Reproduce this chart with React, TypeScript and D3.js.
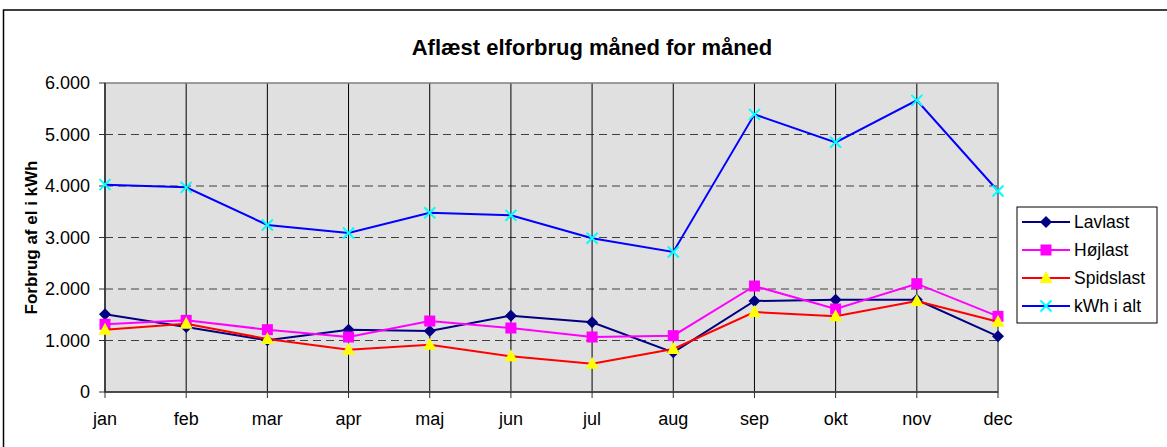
import { useEffect } from 'react'
import * as d3 from 'd3'

const months = ['jan', 'feb', 'mar', 'apr', 'maj', 'jun', 'jul', 'aug', 'sep', 'okt', 'nov', 'dec']
const lavlast = [1508, 1262, 1003, 1210, 1184, 1482, 1353, 770, 1767, 1793, 1790, 1081]
const hojlast = [1314, 1391, 1210, 1068, 1378, 1242, 1068, 1094, 2058, 1611, 2103, 1469]
const spidslast = [1210, 1327, 1029, 822, 919, 692, 550, 835, 1553, 1469, 1767, 1365]
const kwhTotal = [4026, 3974, 3243, 3087, 3482, 3430, 2984, 2718, 5391, 4848, 5663, 3903]
const yTicks = [0, 1000, 2000, 3000, 4000, 5000, 6000]

type Marker = 'diamond' | 'square' | 'triangle' | 'x'

const series: { name: string; values: number[]; line: string; fill: string; marker: Marker }[] = [
  { name: 'Lavlast', values: lavlast, line: '#000080', fill: '#000080', marker: 'diamond' },
  { name: 'Højlast', values: hojlast, line: '#ff00ff', fill: '#ff00ff', marker: 'square' },
  { name: 'Spidslast', values: spidslast, line: '#ff0000', fill: '#ffff00', marker: 'triangle' },
  { name: 'kWh i alt', values: kwhTotal, line: '#0000ff', fill: '#00ffff', marker: 'x' },
]

const font = 'Arial, "Liberation Sans", sans-serif'

function MarkerShape({ type, x, y, fill }: { type: Marker; x: number; y: number; fill: string }) {
  if (type === 'diamond') {
    return <path d={`M${x},${y - 6}L${x + 6},${y}L${x},${y + 6}L${x - 6},${y}Z`} fill={fill} />
  }
  if (type === 'square') {
    return <rect x={x - 5.5} y={y - 5.5} width={11} height={11} fill={fill} />
  }
  if (type === 'triangle') {
    return <path d={`M${x},${y - 7}L${x + 6.5},${y + 5}L${x - 6.5},${y + 5}Z`} fill={fill} />
  }
  return (
    <path
      d={`M${x - 5.5},${y - 5.5}L${x + 5.5},${y + 5.5}M${x - 5.5},${y + 5.5}L${x + 5.5},${y - 5.5}`}
      stroke={fill}
      strokeWidth={2}
    />
  )
}

export default function App() {
  useEffect(() => {
    document.body.style.margin = '0'
  }, [])

  const left = 105
  const right = 998
  const top = 83
  const bottom = 392

  const x = d3.scalePoint<string>().domain(months).range([left, right])
  const y = d3.scaleLinear().domain([0, 6000]).range([bottom, top])
  const fmt = (v: number) => (v === 0 ? '0' : d3.format(',')(v).replace(/,/g, '.'))

  const line = d3
    .line<number>()
    .x((_, i) => x(months[i]) as number)
    .y(d => y(d))

  return (
    <svg width={1167} height={447} style={{ display: 'block', fontFamily: font }}>
      <rect x={0} y={0} width={1167} height={447} fill="#ffffff" />
      <rect x={3.5} y={10} width={1180} height={460} fill="#ffffff" stroke="#000" strokeWidth={1.5} />

      <text x={592} y={55} textAnchor="middle" fontSize={22} fontWeight="bold">
        Aflæst elforbrug måned for måned
      </text>

      <rect x={left} y={top} width={right - left} height={bottom - top} fill="#e0e0e0" />

      {yTicks.filter(t => t > 0 && t < 6000).map(t => (
        <line key={t} x1={left} x2={right} y1={y(t)} y2={y(t)} stroke="#404040" strokeDasharray="8,5" strokeWidth={1} />
      ))}
      {months.map(m => (
        <line key={m} x1={x(m)} x2={x(m)} y1={top} y2={bottom} stroke="#000" strokeWidth={1} />
      ))}

      <rect x={left} y={top} width={right - left} height={bottom - top} fill="none" stroke="#808080" strokeWidth={1.5} />
      <line x1={left} x2={left} y1={top} y2={bottom} stroke="#303030" strokeWidth={1.5} />
      <line x1={left} x2={right} y1={bottom} y2={bottom} stroke="#303030" strokeWidth={1.5} />

      {yTicks.map(t => (
        <g key={t}>
          <line x1={left - 6} x2={left} y1={y(t)} y2={y(t)} stroke="#303030" strokeWidth={1} />
          <text x={90} y={y(t)} dy="0.35em" textAnchor="end" fontSize={18}>
            {fmt(t)}
          </text>
        </g>
      ))}
      {months.map(m => (
        <g key={m}>
          <line x1={x(m)} x2={x(m)} y1={bottom} y2={bottom + 6} stroke="#303030" strokeWidth={1} />
          <text x={x(m)} y={419} dy="0.35em" textAnchor="middle" fontSize={18}>
            {m}
          </text>
        </g>
      ))}

      <text
        transform={`translate(37,${(top + bottom) / 2}) rotate(-90)`}
        textAnchor="middle"
        fontSize={17}
        fontWeight="bold"
      >
        Forbrug af el i kWh
      </text>

      {series.map(s => (
        <g key={s.name}>
          <path d={line(s.values) || ''} fill="none" stroke={s.line} strokeWidth={2} />
          {s.values.map((v, i) => (
            <MarkerShape key={i} type={s.marker} x={x(months[i]) as number} y={y(v)} fill={s.fill} />
          ))}
        </g>
      ))}

      <rect x={1017} y={207} width={140} height={116} fill="#ffffff" stroke="#000" strokeWidth={1} />
      {series.map((s, i) => {
        const ly = 222 + i * 28
        return (
          <g key={s.name}>
            <line x1={1022} x2={1070} y1={ly} y2={ly} stroke={s.line} strokeWidth={2} />
            <MarkerShape type={s.marker} x={1046} y={ly} fill={s.fill} />
            <text x={1074} y={ly} dy="0.35em" fontSize={17.5}>
              {s.name}
            </text>
          </g>
        )
      })}
    </svg>
  )
}
